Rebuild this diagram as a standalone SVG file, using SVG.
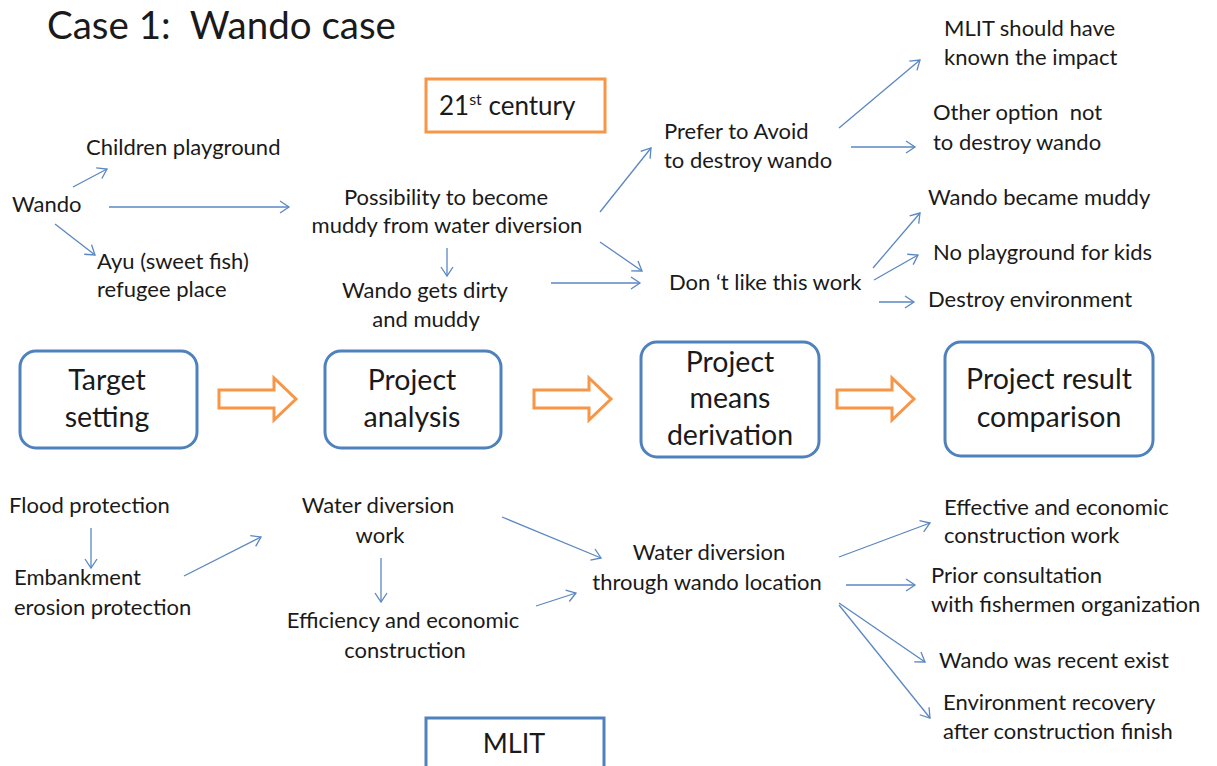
<svg xmlns="http://www.w3.org/2000/svg" width="1217" height="766" viewBox="0 0 1217 766">
<defs>
<style>
text{font-family:Lato,"Open Sans","Liberation Sans",sans-serif;fill:#1a1a1a;white-space:pre}
.t{font-size:22px}
.b{font-size:28.5px}
.c{text-anchor:middle}
.conn{stroke:#5b87c2;stroke-width:1.3;fill:none;marker-end:url(#ah)}
.box{fill:#fff;stroke:#4f81bd;stroke-width:3}
.oar{fill:#fff;stroke:#f79646;stroke-width:3;stroke-linejoin:miter}
</style>
<marker id="ah" markerUnits="userSpaceOnUse" markerWidth="14" markerHeight="14" viewBox="0 0 14 14" refX="12" refY="7" orient="auto">
<path d="M3,1 L12,7 L3,13" fill="none" stroke="#5b87c2" stroke-width="1.3"/>
</marker>
<path id="oarrow" d="M0,12 H55 V0 L77,21 L55,42 V30 H0 Z"/>
</defs>
<rect width="1217" height="766" fill="#fff"/>
<text x="47" y="39" xml:space="preserve" style="font-size:38.5px">Case 1:  Wando case</text>

<g id="century"><rect x="426" y="79" width="179" height="53" fill="#fff" stroke="#f79646" stroke-width="3"/><text x="439" y="115" style="font-size:26px">21<tspan dy="-10" style="font-size:16px">st</tspan><tspan dy="10"> century</tspan></text></g>

<g id="n-children"><text class="t" x="86" y="155">Children playground</text></g>
<g id="n-wando"><text class="t" x="12" y="212">Wando</text></g>
<g id="n-ayu"><text class="t" x="97" y="269">Ayu (sweet fish)</text><text class="t" x="97" y="297">refugee place</text></g>
<g id="n-possibility"><text class="t c" x="446" y="205">Possibility to become</text><text class="t c" x="447" y="233">muddy from water diversion</text></g>
<g id="n-dirty"><text class="t c" x="425" y="298">Wando gets dirty</text><text class="t c" x="426" y="327">and muddy</text></g>
<g id="n-prefer"><text class="t" x="664" y="139">Prefer to Avoid</text><text class="t" x="664" y="168">to destroy wando</text></g>
<g id="n-dontlike"><text class="t" x="669" y="290">Don ‘t like this work</text></g>
<g id="n-mlitshould"><text class="t" x="944" y="36">MLIT should have</text><text class="t" x="944" y="65">known the impact</text></g>
<g id="n-other"><text class="t" x="933" y="120" xml:space="preserve">Other option  not</text><text class="t" x="933" y="150">to destroy wando</text></g>
<g id="n-became"><text class="t" x="928" y="205">Wando became muddy</text></g>
<g id="n-noplay"><text class="t" x="933" y="260">No playground for kids</text></g>
<g id="n-destroy"><text class="t" x="928" y="307">Destroy environment</text></g>

<g id="s-target"><rect class="box" x="20" y="351" width="177" height="97" rx="16"/><text class="b c" x="107" y="390">Target</text><text class="b c" x="107" y="427">setting</text></g>
<g id="s-analysis"><rect class="box" x="325" y="351" width="176" height="97" rx="16"/><text class="b c" x="412" y="390">Project</text><text class="b c" x="412" y="427">analysis</text></g>
<g id="s-means"><rect class="box" x="641" y="342" width="178" height="115" rx="16"/><text class="b c" x="730" y="372">Project</text><text class="b c" x="730" y="408">means</text><text class="b c" x="730" y="445">derivation</text></g>
<g id="s-result"><rect class="box" x="945" y="342" width="208" height="114" rx="16"/><text class="b c" x="1049" y="389">Project result</text><text class="b c" x="1049" y="427">comparison</text></g>

<g id="orange-arrows">
<use href="#oarrow" class="oar" x="219" y="378"/>
<use href="#oarrow" class="oar" x="534" y="378"/>
<use href="#oarrow" class="oar" x="837" y="378"/>
</g>

<g id="n-flood"><text class="t" x="9" y="513">Flood protection</text></g>
<g id="n-embank"><text class="t" x="14" y="585">Embankment</text><text class="t" x="14" y="615">erosion protection</text></g>
<g id="n-wdwork"><text class="t c" x="378" y="513">Water diversion</text><text class="t c" x="380" y="543">work</text></g>
<g id="n-eff"><text class="t c" x="403" y="628">Efficiency and economic</text><text class="t c" x="405" y="658">construction</text></g>
<g id="n-wdthrough"><text class="t c" x="709" y="560">Water diversion</text><text class="t c" x="707" y="590">through wando location</text></g>
<g id="n-effective"><text class="t" x="944" y="515">Effective and economic</text><text class="t" x="944" y="543">construction work</text></g>
<g id="n-prior"><text class="t" x="931" y="583">Prior consultation</text><text class="t" x="931" y="612">with fishermen organization</text></g>
<g id="n-recent"><text class="t" x="939" y="668">Wando was recent exist</text></g>
<g id="n-recovery"><text class="t" x="943" y="710">Environment recovery</text><text class="t" x="943" y="739">after construction finish</text></g>
<g id="n-mlit"><rect x="426" y="718" width="178" height="60" fill="#fff" stroke="#4f81bd" stroke-width="3"/><text x="514" y="753" class="c" style="font-size:27px">MLIT</text></g>

<g id="connectors">
<line class="conn" x1="73" y1="187" x2="107" y2="169"/>
<line class="conn" x1="109" y1="207" x2="289" y2="207"/>
<line class="conn" x1="55" y1="224" x2="95" y2="255"/>
<line class="conn" x1="447" y1="248" x2="447" y2="276"/>
<line class="conn" x1="600" y1="212" x2="651" y2="148"/>
<line class="conn" x1="600" y1="242" x2="642" y2="271"/>
<line class="conn" x1="551" y1="283" x2="640" y2="283"/>
<line class="conn" x1="839" y1="128" x2="920" y2="60"/>
<line class="conn" x1="851" y1="147" x2="915" y2="147"/>
<line class="conn" x1="873" y1="268" x2="920" y2="213"/>
<line class="conn" x1="874" y1="280" x2="918" y2="255"/>
<line class="conn" x1="879" y1="302" x2="914" y2="302"/>
<line class="conn" x1="91" y1="528" x2="91" y2="568"/>
<line class="conn" x1="184" y1="576" x2="261" y2="537"/>
<line class="conn" x1="381" y1="558" x2="381" y2="602"/>
<line class="conn" x1="502" y1="517" x2="601" y2="558"/>
<line class="conn" x1="536" y1="606" x2="576" y2="593"/>
<line class="conn" x1="839" y1="557" x2="930" y2="523"/>
<line class="conn" x1="846" y1="585" x2="915" y2="585"/>
<line class="conn" x1="839" y1="603" x2="925" y2="662"/>
<line class="conn" x1="839" y1="605" x2="930" y2="718"/>
</g>
</svg>
